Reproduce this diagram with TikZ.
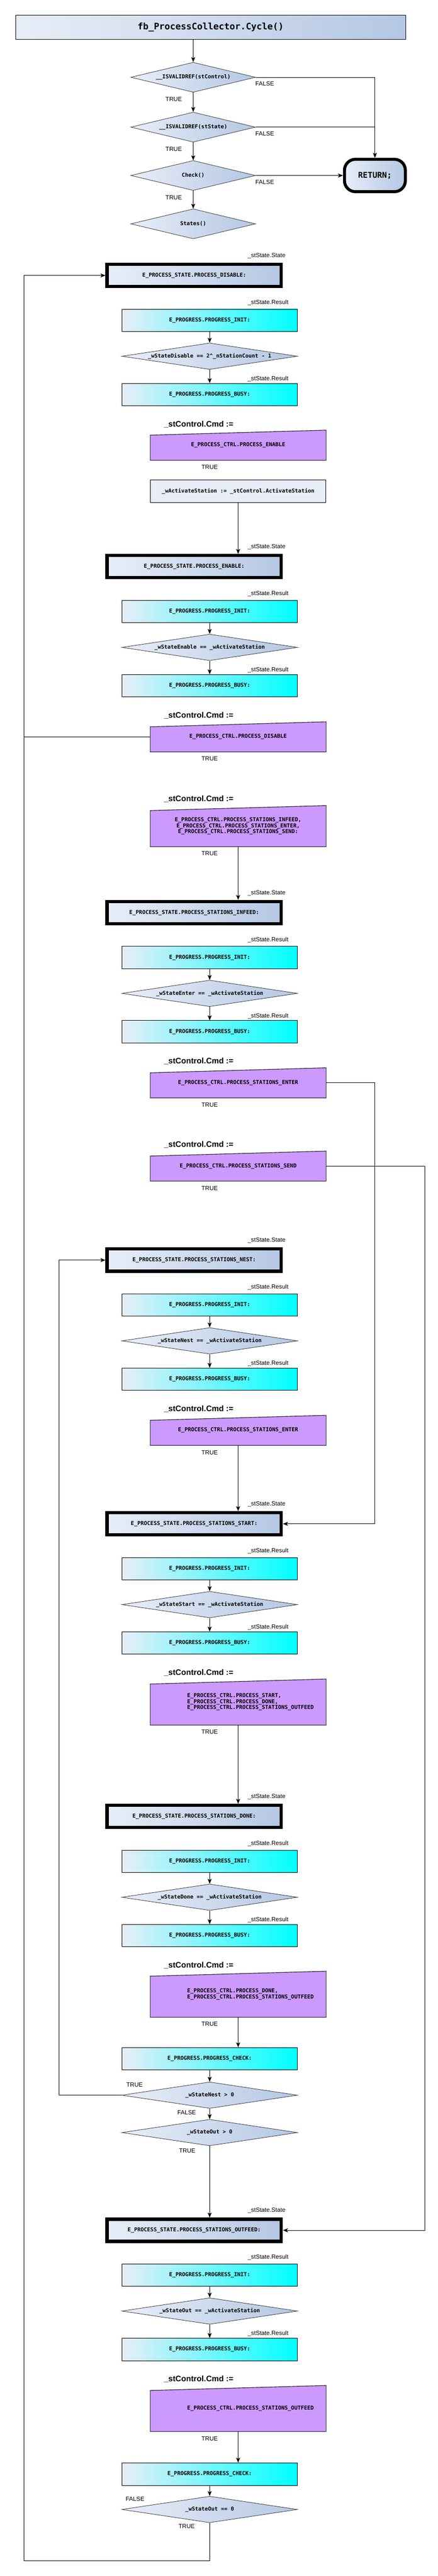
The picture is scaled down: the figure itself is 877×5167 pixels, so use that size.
\documentclass[tikz,border=0pt]{standalone}
\usepackage{fontspec}
\setmainfont{Liberation Sans}
\setmonofont{DejaVu Sans Mono}
\usetikzlibrary{shapes.geometric,arrows.meta}

\definecolor{blueL}{HTML}{E8EEF8}
\definecolor{blueR}{HTML}{B4C7E3}
\definecolor{cyanR}{HTML}{00FFFF}
\definecolor{cmdfill}{HTML}{CC99FF}
\pgfdeclarelayer{background}
\pgfsetlayers{background,main}

\begin{document}
\begin{tikzpicture}[x=1pt, y=-1pt,
  codefont/.style={font={\ttfamily\bfseries\fontsize{10.8}{12}\selectfont}},
  titlebox/.style={rectangle, draw, line width=0.9pt, left color=blueL, right color=blueR, minimum width=782pt, minimum height=49pt, font={\ttfamily\bfseries\fontsize{18}{20}\selectfont}},
  returnbox/.style={rectangle, rounded corners=22pt, draw, line width=6pt, left color=blueL, right color=blueR, minimum width=122pt, minimum height=65pt, font={\ttfamily\bfseries\fontsize{16}{18}\selectfont}},
  decision/.style={diamond, draw=black!75, line width=0.9pt, left color=blueL, right color=blueR, inner sep=0pt, minimum width=352pt, minimum height=53pt, aspect=6.6, codefont},
  statebox/.style={rectangle, draw, line width=6.5pt, left color=blueL, right color=blueR, minimum width=349pt, minimum height=44.5pt, codefont},
  progbox/.style={rectangle, draw, line width=0.9pt, left color=blueL, right color=cyanR, minimum width=352pt, minimum height=45pt, codefont},
  plainbox/.style={rectangle, draw, line width=0.9pt, fill=blueL, minimum width=352pt, minimum height=45pt, codefont},
  cmdbox/.style={rectangle, minimum width=352pt, codefont, align=center},
  cmdleft/.style={cmdbox, align=left, text width=204pt, inner xsep=74pt},
  cmdshape/.style={fill=cmdfill, draw=black!85, line width=1.2pt},
  lbl/.style={font={\fontsize{12}{14}\selectfont}, inner sep=0pt},
  cmdlbl/.style={font={\bfseries\fontsize{16}{18}\selectfont}, inner sep=0pt},
  wire/.style={line width=0.9pt},
  arr/.style={wire, -{Stealth[length=10pt, width=8pt, inset=2.5pt]}}]

\useasboundingbox (0,0) rectangle (877,5167);

% entry checks
\node[titlebox] (title) at (422,54.5) {fb\_ProcessCollector.Cycle()};
\foreach \dn/\yy/\txt in {d1/155/\_\_ISVALIDREF(stControl), d2/255/\_\_ISVALIDREF(stState), d3/352/Check(), d4/449/States()}
  \node[decision, minimum width=250pt, minimum height=60pt, aspect=4.2] (\dn) at (387,\yy) {\txt};
\node[returnbox] (ret) at (751,352) {RETURN;};

\draw[arr] (title.south -| d1.north) -- (d1.north);
\draw[arr] (d1.south) -- (d2.north);
\draw[arr] (d2.south) -- (d3.north);
\draw[arr] (d3.south) -- (d4.north);
\draw[arr] (d1.east) -| (ret.north);
\draw[wire] (d2.east) -- (d2.east -| ret.north);
\draw[arr] (d3.east) -- (ret.west);
\foreach \dn [count=\i] in {d1,d2,d3} {
  \node[lbl] (t\i) at ([shift={(-39,14)}]\dn.south) {TRUE};
  \node[lbl] (f\i) at ([shift={(18,13)}]\dn.east) {FALSE};
}

% state blocks
\foreach \s/\ty/\lab/\cnd in {
    dis/527/PROCESS\_DISABLE/\_wStateDisable == 2\textasciicircum\_nStationCount - 1,
    ena/1111/PROCESS\_ENABLE/\_wStateEnable == \_wActivateStation,
    inf/1805/PROCESS\_STATIONS\_INFEED/\_wStateEnter == \_wActivateStation,
    nst/2502/PROCESS\_STATIONS\_NEST/\_wStateNest == \_wActivateStation,
    sta/3031/PROCESS\_STATIONS\_START/\_wStateStart == \_wActivateStation,
    don/3618/PROCESS\_STATIONS\_DONE/\_wStateDone == \_wActivateStation,
    out/4448/PROCESS\_STATIONS\_OUTFEED/\_wStateOut == \_wActivateStation} {
  \node[statebox] (\s) at (389,\ty+25.5) {E\_PROCESS\_STATE.\lab:};
  \node[lbl] (\s-st) at (534,\ty-14) {\_stState.State};
  \node[lbl] (\s-r1) at (537,\ty+80) {\_stState.Result};
  \node[progbox] (\s-i) at (420,\ty+115.5) {E\_PROGRESS.PROGRESS\_INIT:};
  \node[decision] (\s-d) at (420,\ty+187.5) {\cnd};
  \node[lbl] (\s-r2) at (537,\ty+233) {\_stState.Result};
  \node[progbox] (\s-b) at (420,\ty+264.5) {E\_PROGRESS.PROGRESS\_BUSY:};
  \node[cmdlbl] (\s-c) at (398,\ty+324) {\_stControl.Cmd :=};
  \draw[arr] (\s-i.south) -- (\s-d.north);
  \draw[arr] (\s-d.south) -- (\s-b.north);
}

% commands
\node[cmdbox, minimum height=60pt] (c1) at (477,893) {E\_PROCESS\_CTRL.PROCESS\_ENABLE};
\node[plainbox] (act) at (477,985.5) {\_wActivateStation := \_stControl.ActivateStation};
\node[cmdbox, minimum height=60pt] (c2) at (477,1478) {E\_PROCESS\_CTRL.PROCESS\_DISABLE};
\node[cmdlbl] (c3-c) at (398,1603) {\_stControl.Cmd :=};
\node[cmdbox, minimum height=82pt] (c3) at (477,1657) {E\_PROCESS\_CTRL.PROCESS\_STATIONS\_INFEED,\\E\_PROCESS\_CTRL.PROCESS\_STATIONS\_ENTER,\\E\_PROCESS\_CTRL.PROCESS\_STATIONS\_SEND:};
\node[cmdbox, minimum height=60pt] (c4) at (477,2172) {E\_PROCESS\_CTRL.PROCESS\_STATIONS\_ENTER};
\node[cmdlbl] (c5-c) at (398,2296) {\_stControl.Cmd :=};
\node[cmdbox, minimum height=60pt] (c5) at (477,2339) {E\_PROCESS\_CTRL.PROCESS\_STATIONS\_SEND};
\node[cmdbox, minimum height=60pt] (c6) at (477,2869) {E\_PROCESS\_CTRL.PROCESS\_STATIONS\_ENTER};
\node[cmdleft, minimum height=92pt] (c7) at (477,3414) {\mbox{E\_PROCESS\_CTRL.PROCESS\_START,}\\\mbox{E\_PROCESS\_CTRL.PROCESS\_DONE,}\\\mbox{E\_PROCESS\_CTRL.PROCESS\_STATIONS\_OUTFEED}};
\node[cmdleft, minimum height=92pt] (c8) at (477,4000) {\mbox{E\_PROCESS\_CTRL.PROCESS\_DONE,}\\\mbox{E\_PROCESS\_CTRL.PROCESS\_STATIONS\_OUTFEED}};
\node[cmdleft, minimum height=92pt] (c9) at (477,4831) {\mbox{E\_PROCESS\_CTRL.PROCESS\_STATIONS\_OUTFEED}};
\foreach \c in {c1,c2,c3,c4,c5,c6,c7,c8,c9}
  \node[lbl] (\c-t) at ([shift={(-57,14)}]\c.south) {TRUE};

% checks
\node[progbox] (k1) at (420,4129.5) {E\_PROGRESS.PROGRESS\_CHECK:};
\node[decision] (n1) at (420,4202.5) {\_wStateNest > 0};
\node[decision] (o1) at (420,4277.5) {\_wStateOut > 0};
\node[progbox] (k2) at (420,4962.5) {E\_PROGRESS.PROGRESS\_CHECK:};
\node[decision] (e2) at (420,5033.5) {\_wStateOut == 0};
\node[lbl] (n1-t) at ([shift={(26,-21)}]n1.west) {TRUE};
\node[lbl] (n1-f) at ([shift={(-46,8)}]n1.south) {FALSE};
\node[lbl] (o1-t) at ([shift={(-45,10)}]o1.south) {TRUE};
\node[lbl] (e2-f) at ([shift={(27,-21)}]e2.west) {FALSE};
\node[lbl] (e2-t) at ([shift={(-46,7)}]e2.south) {TRUE};
\coordinate (lpL) at (48,5136);
\coordinate (lpN) at (118,4202.5);

\draw[arr] (act.south) -- (act.south |- ena.north);
\draw[arr] (e2.south) |- (lpL) |- (dis.west);
\draw[wire] (c2.west) -- (c2.west -| lpL);
\draw[arr] (c3.south) -- (c3.south |- inf.north);
\draw[arr] (c4.east) -- ++(98,0) |- (sta.east);
\draw[arr] (c5.east) -- ++(198,0) |- (out.east);
\draw[arr] (c6.south) -- (c6.south |- sta.north);
\draw[arr] (c7.south) -- (c7.south |- don.north);
\draw[arr] (c8.south) -- (c8.south |- k1.north);
\draw[arr] (k1.south) -- (n1.north);
\draw[arr] (n1.west) -- (lpN) |- (nst.west);
\draw[arr] (n1.south) -- (o1.north);
\draw[arr] (o1.south) -- (o1.south |- out.north);
\draw[arr] (c9.south) -- (c9.south |- k2.north);
\draw[arr] (k2.south) -- (e2.north);

\begin{pgfonlayer}{background}
  \foreach \c in {c1,c2,c3,c4,c5,c6,c7,c8,c9}
    \filldraw[cmdshape] (\c.south west) -- ([yshift=-10pt]\c.north west) -- (\c.north east) -- (\c.south east) -- cycle;
\end{pgfonlayer}
\end{tikzpicture}
\end{document}
